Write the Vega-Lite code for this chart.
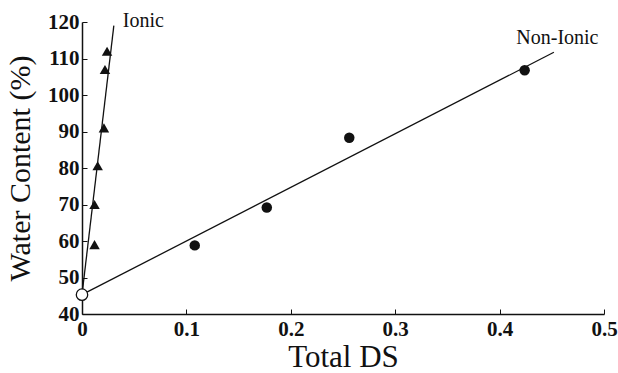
{
  "$schema": "https://vega.github.io/schema/vega-lite/v6.json",
  "width": 522,
  "height": 292,
  "autosize": {"type": "none"},
  "padding": {"left": 82, "top": 22, "right": 14, "bottom": 59},
  "background": "white",
  "config": {
    "view": {"stroke": null},
    "font": "Liberation Serif",
    "axis": {"grid": false, "domainColor": "#111", "tickColor": "#111", "labelColor": "#111", "titleColor": "#111", "labelFont": "Liberation Serif", "titleFont": "Liberation Serif", "labelFontSize": 21, "labelFontWeight": "bold", "titleFontSize": 30, "titleFontWeight": "normal", "domainWidth": 1.5, "labelOverlap": false}
  },
  "datasets": {
    "pts": [
      {"series": "Ionic", "x": 0.012, "y": 59},
      {"series": "Ionic", "x": 0.012, "y": 70},
      {"series": "Ionic", "x": 0.015, "y": 80.6},
      {"series": "Ionic", "x": 0.021, "y": 91},
      {"series": "Ionic", "x": 0.022, "y": 107},
      {"series": "Ionic", "x": 0.024, "y": 112},
      {"series": "Non-Ionic", "x": 0.108, "y": 58.8},
      {"series": "Non-Ionic", "x": 0.177, "y": 69.2},
      {"series": "Non-Ionic", "x": 0.256, "y": 88.3},
      {"series": "Non-Ionic", "x": 0.424, "y": 106.8}
    ],
    "lines": [
      {"series": "Ionic", "x": 0, "y": 45.3},
      {"series": "Ionic", "x": 0.0305, "y": 119},
      {"series": "Non-Ionic", "x": 0, "y": 45.3},
      {"series": "Non-Ionic", "x": 0.452, "y": 111.7}
    ],
    "origin": [{"x": 0, "y": 45.3}],
    "labels": [
      {"text": "Ionic", "x": 0.039, "y": 120.2},
      {"text": "Non-Ionic", "x": 0.416, "y": 115.5}
    ]
  },
  "encoding": {
    "x": {"field": "x", "type": "quantitative", "scale": {"domain": [0, 0.5], "nice": false},
      "axis": {"title": "Total DS", "values": [0, 0.1, 0.2, 0.3, 0.4, 0.5], "format": ".1~f", "tickSize": -5, "labelPadding": 9, "titlePadding": 3, "labelFlush": false, "labelOverlap": false, "titleFontSize": 31}},
    "y": {"field": "y", "type": "quantitative", "scale": {"domain": [40, 120], "nice": false, "zero": false},
      "axis": {"title": "Water Content (%)", "values": [40, 50, 60, 70, 80, 90, 100, 110, 120], "tickCount": 9, "tickSize": -5, "labelPadding": 8, "titlePadding": 12, "labelOverlap": false, "labelFlush": false}}
  },
  "layer": [
    {
      "data": {"name": "lines"},
      "mark": {"type": "line", "color": "#111", "strokeWidth": 1.3},
      "encoding": {"detail": {"field": "series"}}
    },
    {
      "data": {"name": "pts"},
      "transform": [{"filter": "datum.series === 'Ionic'"}],
      "mark": {"type": "point", "shape": "triangle-up", "filled": true, "color": "#111", "size": 110, "opacity": 1}
    },
    {
      "data": {"name": "pts"},
      "transform": [{"filter": "datum.series === 'Non-Ionic'"}],
      "mark": {"type": "point", "shape": "circle", "filled": true, "color": "#111", "size": 110, "opacity": 1}
    },
    {
      "data": {"name": "origin"},
      "mark": {"type": "point", "shape": "circle", "filled": true, "fill": "white", "stroke": "#111", "strokeWidth": 1.3, "size": 130, "opacity": 1}
    },
    {
      "data": {"name": "labels"},
      "mark": {"type": "text", "align": "left", "baseline": "middle", "font": "Liberation Serif", "fontSize": 20, "color": "#111"},
      "encoding": {"text": {"field": "text"}}
    }
  ]
}
